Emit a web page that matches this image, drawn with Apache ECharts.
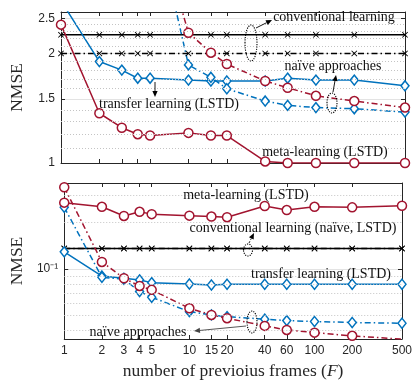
<!DOCTYPE html>
<html>
<head>
    <meta charset="utf-8" />
    <title>NMSE vs number of previous frames</title>
    <style>
        html, body { margin: 0; padding: 0; background: #fff; }
        #divChart { width: 415px; height: 384px; }
    </style>
</head>
<body>
    <div id="divChart"></div>
    <script src="https://cdn.jsdelivr.net/npm/echarts@6/dist/echarts.min.js"></script>
    <script>
        // number of previous frames F (x axis, log)
        var frames = [1, 2, 3, 4, 5, 10, 15, 20, 40, 60, 100, 200, 500];

        // upper panel
        var topConv = [2.25, 2.25, 2.25, 2.25, 2.25, 2.25, 2.25, 2.25, 2.25, 2.25, 2.25, 2.25, 2.25];
        var topConvNaive = [2.0, 2.0, 2.0, 2.0, 2.0, 2.0, 2.0, 2.0, 2.0, 2.0, 2.0, 2.0, 2.0];
        var topTransfer = [2.79, 1.90, 1.80, 1.71, 1.71, 1.69, 1.68, 1.68, 1.68, 1.71, 1.69, 1.69, 1.63];
        var topTransferNaive = [null, null, null, null, 5.39, 1.86, 1.72, 1.60, 1.48, 1.44, 1.42, 1.41, 1.38];
        var topMeta = [2.40, 1.37, 1.25, 1.20, 1.19, 1.21, 1.19, 1.19, 1.01, 1.0, 1.0, 1.0, 1.0];
        var topMetaNaive = [null, null, null, null, 5.24, 2.28, 2.01, 1.87, 1.68, 1.61, 1.53, 1.48, 1.42];

        // lower panel
        var botConv = [0.1356, 0.1356, 0.1356, 0.1356, 0.1356, 0.1356, 0.1356, 0.1356, 0.1356, 0.1356, 0.1356, 0.1356, 0.1356];
        var botMeta = [0.268, 0.252, 0.220, 0.234, 0.226, 0.221, 0.218, 0.216, 0.255, 0.240, 0.252, 0.250, 0.256];
        var botMetaNaive = [0.337, 0.111, 0.0871, 0.0777, 0.0733, 0.0557, 0.0505, 0.0481, 0.0429, 0.0404, 0.0388, 0.0370, 0.0352];
        var botTransfer = [0.129, 0.090, 0.0871, 0.085, 0.0816, 0.080, 0.0788, 0.0797, 0.0797, 0.0797, 0.0797, 0.0797, 0.0797];
        var botTransferNaive = [0.250, 0.0884, 0.0858, 0.0714, 0.0657, 0.0530, 0.0505, 0.0492, 0.0474, 0.0464, 0.0458, 0.0451, 0.0446];

        // tick labels / grid values
        var topYTicks = [1, 1.5, 2, 2.5];
        var topYMinor = [1.1, 1.2, 1.3, 1.4, 1.6, 1.7, 1.8, 1.9, 2.1, 2.2, 2.3, 2.4];
        var botYTicks = [0.1];
        var botYMinor = [0.04, 0.05, 0.06, 0.07, 0.08, 0.09, 0.2, 0.3];

        var RED = '#A2142F', BLUE = '#0072BD', BLACK = '#000';
        var SERIF = '"Liberation Serif", "DejaVu Serif", serif';
        var SANS = '"Liberation Sans", Arial, sans-serif';
        var DASHDOT = [6, 3, 1.5, 3];
        var XMARK = 'path://M0,1 L1,0 L5,4 L9,0 L10,1 L6,5 L10,9 L9,10 L5,6 L1,10 L0,9 L4,5 Z';

        function pairs(ys) {
            return frames.map(function (f, i) { return [f, ys[i]]; });
        }

        function line(name, g, ys, color, dash, symbol, size) {
            return {
                name: name, type: 'line', xAxisIndex: g * 2, yAxisIndex: g * 2,
                data: pairs(ys), connectNulls: false,
                lineStyle: { color: color, width: 1.5, type: dash ? DASHDOT : 'solid' },
                symbol: symbol, symbolSize: size,
                itemStyle: symbol === XMARK ? { color: color } : { color: '#fff', borderColor: color, borderWidth: 1.5 },
                z: 3, animation: false
            };
        }

        function minorGrid(g, ys, vals) {
            return {
                type: 'line', xAxisIndex: g * 2, yAxisIndex: g * 2, data: pairs(ys),
                symbol: 'none', lineStyle: { opacity: 0 }, z: 1, silent: true, animation: false,
                markLine: {
                    silent: true, symbol: 'none', label: { show: false }, animation: false,
                    lineStyle: { type: [1, 2], color: '#c4c4c4', width: 1 },
                    data: vals.map(function (v) { return { yAxis: v }; })
                }
            };
        }

        function xAx(g, pos, labels) {
            return {
                gridIndex: g, type: 'log', logBase: 10, min: 1, max: 500, position: pos,
                axisLine: { show: true, lineStyle: { color: '#262626', width: 1 } },
                axisTick: { show: true, inside: true, length: 4, customValues: frames, lineStyle: { color: '#262626' } },
                axisLabel: { show: labels, customValues: frames, color: '#262626', fontSize: 12, fontFamily: SANS, margin: 6 },
                splitLine: { show: false },
                name: labels ? 'number of previoius frames ({i|F})' : '',
                nameLocation: 'middle', nameGap: 23,
                nameTextStyle: {
                    fontFamily: SERIF, fontSize: 17.5, color: '#262626',
                    rich: { i: { fontFamily: SERIF, fontSize: 17.5, fontStyle: 'italic', color: '#262626' } }
                }
            };
        }

        function yAx(g, pos, min, max, ticks, labels, fmt) {
            return {
                gridIndex: g, type: 'log', logBase: 10, min: min, max: max, position: pos,
                axisLine: { show: true, lineStyle: { color: '#262626', width: 1 } },
                axisTick: { show: true, inside: true, length: 4, customValues: ticks, lineStyle: { color: '#262626' } },
                axisLabel: { show: labels, customValues: ticks, color: '#262626', fontSize: 12, fontFamily: SANS, margin: 6, formatter: fmt },
                splitLine: { show: labels, lineStyle: { color: '#e3e3e3', width: 1 } },
                name: labels ? 'NMSE' : '', nameLocation: 'middle', nameGap: 35,
                nameTextStyle: { fontFamily: SERIF, fontSize: 17.5, color: '#262626' }
            };
        }

        function arrow(x1, y1, x2, y2, dash, color) {
            var a = Math.atan2(y2 - y1, x2 - x1), L = 6, W = 2.6, c = color || '#000';
            var bx = x2 - L * Math.cos(a), by = y2 - L * Math.sin(a);
            return [
                { type: 'line', shape: { x1: x1, y1: y1, x2: bx, y2: by }, style: { stroke: c, lineWidth: 0.9, lineDash: dash ? [2, 1.5] : null }, z: 10 },
                { type: 'polygon', shape: { points: [[x2, y2], [bx + W * Math.sin(a), by - W * Math.cos(a)], [bx - W * Math.sin(a), by + W * Math.cos(a)]] }, style: { fill: c }, z: 10 }
            ];
        }
        function note(txt, x, y) {
            return { type: 'text', x: x, y: y, z: 10, style: { text: txt, font: '14px ' + SERIF, fill: '#111', align: 'center', verticalAlign: 'middle' } };
        }
        function ring(cx, cy, rx, ry) {
            return { type: 'ellipse', shape: { cx: cx, cy: cy, rx: rx, ry: ry }, z: 10, style: { fill: 'none', stroke: '#000', lineWidth: 1.1, lineDash: [1.2, 1.2] } };
        }

        var graphics = [
            note('conventional learning', 334, 17),
            note('naïve approaches', 333, 66),
            note('transfer learning (LSTD)', 169, 104),
            note('meta-learning (LSTD)', 325, 152),
            ring(251, 43, 6, 18),
            ring(332, 103, 5, 10),
            note('meta-learning (LSTD)', 246, 195),
            note('conventional learning (naïve, LSTD)', 293, 228),
            note('transfer learning (LSTD)', 321, 274),
            note('naïve approaches', 138, 332),
            ring(248, 250, 4.5, 6),
            ring(252, 322, 5, 11)
        ].concat(
            arrow(256, 28, 272, 20),
            arrow(333, 92, 336, 75),
            arrow(155, 82, 155, 97),
            arrow(249, 243, 254, 233, true),
            arrow(246, 326, 194, 331, false, '#444')
        );

        var myChart = echarts.init(document.getElementById('divChart'), null, { renderer: 'canvas' });

        var option = {
            animation: false,
            backgroundColor: '#fff',
            grid: [
                { left: 55, right: 10, top: 12, height: 151, containLabel: false },
                { left: 55, right: 10, top: 183, height: 156, containLabel: false }
            ],
            xAxis: [xAx(0, 'bottom', false), xAx(0, 'top', false), xAx(1, 'bottom', true), xAx(1, 'top', false)],
            yAxis: [
                yAx(0, 'left', 1, 2.6, topYTicks, true, function (v) { return String(+v.toFixed(1)); }),
                yAx(0, 'right', 1, 2.6, topYTicks, false),
                yAx(1, 'left', 0.0353, 0.359, botYTicks, true, function () { return '10⁻¹'; }),
                yAx(1, 'right', 0.0353, 0.359, botYTicks, false)
            ],
            series: [
                minorGrid(0, topConv, topYMinor),
                minorGrid(1, botConv, botYMinor),
                line('conventional learning', 0, topConv, BLACK, false, XMARK, 6),
                line('conventional learning (naïve)', 0, topConvNaive, BLACK, true, XMARK, 6),
                line('transfer learning (LSTD)', 0, topTransfer, BLUE, false, 'diamond', [8, 10]),
                line('transfer learning (naïve)', 0, topTransferNaive, BLUE, true, 'diamond', [8, 10]),
                line('meta-learning (LSTD)', 0, topMeta, RED, false, 'circle', 9),
                line('meta-learning (naïve)', 0, topMetaNaive, RED, true, 'circle', 9),
                line('conventional learning (naïve)', 1, botConv, BLACK, true, XMARK, 6),
                line('conventional learning', 1, botConv, BLACK, false, XMARK, 6),
                line('transfer learning (LSTD)', 1, botTransfer, BLUE, false, 'diamond', [8, 10]),
                line('transfer learning (naïve)', 1, botTransferNaive, BLUE, true, 'diamond', [8, 10]),
                line('meta-learning (LSTD)', 1, botMeta, RED, false, 'circle', 9),
                line('meta-learning (naïve)', 1, botMetaNaive, RED, true, 'circle', 9)
            ],
            graphic: graphics
        };
        myChart.setOption(option);
    </script>
</body>
</html>
